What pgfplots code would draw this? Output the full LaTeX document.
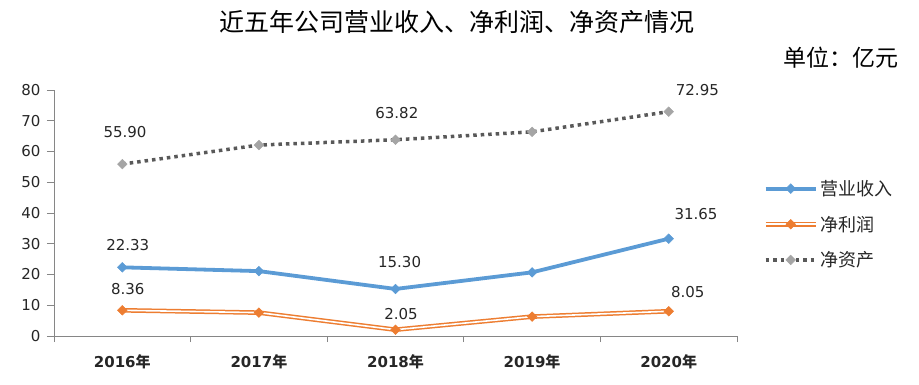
\documentclass[border=0pt]{standalone}
\usepackage{fontspec}
\setmainfont{DejaVu Sans}
\newfontfamily\cjk{Noto Sans CJK SC}
\usepackage{pgfplots}
\pgfplotsset{compat=1.18}
\definecolor{cblue}{HTML}{5B9BD5}
\definecolor{corange}{HTML}{ED7D31}
\definecolor{cgray}{HTML}{A5A5A5}
\definecolor{cdot}{HTML}{595959}
\definecolor{caxis}{HTML}{868686}
\definecolor{ctext}{HTML}{262626}
\pgfplotsset{
  lineleg/.style={legend image code/.code={\draw[mark repeat=2,mark phase=2,##1] plot coordinates {(0pt,0pt) (25pt,0pt) (50pt,0pt)};}},
  doubleleg/.style={legend image code/.code={\draw[corange,line width=4.6pt] (0pt,0pt)--(50pt,0pt); \draw[white,line width=1.6pt] (0pt,0pt)--(50pt,0pt); \path plot[mark=square*, mark size=3.4pt, mark options={rotate=45, fill=corange, draw=corange, line width=0.5pt}] coordinates {(25pt,0pt)};}},
}
\begin{document}
\begin{tikzpicture}[x=1pt,y=1pt]
\path[use as bounding box] (0,0) rectangle (919,384);
\node[font=\cjk\fontsize{25}{25}\selectfont, anchor=center] at (457,362) {近五年公司营业收入、净利润、净资产情况};
\node[font=\cjk\fontsize{23}{23}\selectfont, anchor=east] at (902,326) {单位：亿元};
\begin{axis}[
  at={(54pt,48pt)}, anchor=south west, scale only axis,
  width=683pt, height=246pt,
  xmin=-0.5, xmax=4.5, ymin=0, ymax=80,
  clip=false,
  axis lines*=left,
  axis line style={caxis, line width=0.8pt},
  xtick={0,1,2,3,4},
  xticklabels={{2016{\cjk 年}},{2017{\cjk 年}},{2018{\cjk 年}},{2019{\cjk 年}},{2020{\cjk 年}}},
  xticklabel style={font=\bfseries\fontsize{15}{15}\selectfont, text=ctext, yshift=-8pt},
  major x tick style={draw=none},
  minor xtick={-0.5,0.5,1.5,2.5,3.5,4.5},
  minor x tick style={caxis, line width=0.8pt},
  minor tick length=6pt,
  ytick={0,10,...,80},
  major tick length=7pt,
  y tick style={caxis, line width=0.8pt},
  tick align=outside,
  yticklabel style={font=\fontsize{15}{15}\selectfont, text=ctext, xshift=-3pt},
  /pgf/number format/assume math mode=true,
  legend style={at={(1.034,0.65)}, anchor=north west, draw=none, fill=none,
    font=\cjk\fontsize{18}{18}\selectfont, row sep=15pt, text=ctext},
  legend cell align=left,
]
% revenue
\addplot[cblue, line width=3.8pt, mark=square*, mark size=3.4pt, mark options={rotate=45, solid, fill=cblue, draw=cblue, line width=0.5pt}, lineleg]
  coordinates {(0,22.33) (1,21.1) (2,15.30) (3,20.7) (4,31.65)};
\addlegendentry{营业收入}
% profit (double line)
\addplot[corange, line width=4.6pt, forget plot] coordinates {(0,8.36) (1,7.6) (2,2.05) (3,6.3) (4,8.05)};
\addplot[white, line width=1.6pt, forget plot] coordinates {(0,8.36) (1,7.6) (2,2.05) (3,6.3) (4,8.05)};
\addplot[only marks, mark=square*, mark size=3.4pt, mark options={rotate=45, fill=corange, draw=corange, line width=0.5pt}, doubleleg]
  coordinates {(0,8.36) (1,7.6) (2,2.05) (3,6.3) (4,8.05)};
\addlegendentry{净利润}
% net assets
\addplot[cdot, line width=3.5pt, dash pattern=on 3.5pt off 4pt, mark=square*, mark size=3.4pt, mark options={rotate=45, solid, fill=cgray, draw=cgray, line width=0.5pt}, lineleg]
  coordinates {(0,55.90) (1,62.1) (2,63.82) (3,66.4) (4,72.95)};
\addlegendentry{净资产}
% data labels
\begin{scope}[every node/.style={font=\fontsize{15}{15}\selectfont, text=ctext}]
\node at (axis cs:0.02,66.3) {55.90};
\node at (axis cs:2.01,72.5) {63.82};
\node at (axis cs:4.21,80.0) {72.95};
\node at (axis cs:0.04,29.6) {22.33};
\node at (axis cs:2.03,24.1) {15.30};
\node at (axis cs:4.20,39.7) {31.65};
\node at (axis cs:0.04,15.3) {8.36};
\node at (axis cs:2.04,7.2) {2.05};
\node at (axis cs:4.14,14.3) {8.05};
\end{scope}
\end{axis}
\end{tikzpicture}
\end{document}
